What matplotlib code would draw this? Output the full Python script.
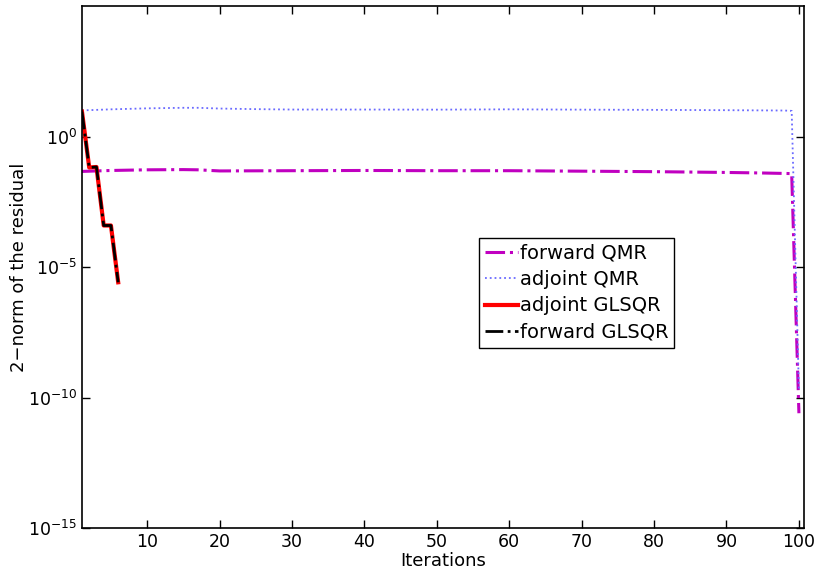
import numpy as np
import matplotlib
matplotlib.use("Agg")
import matplotlib.pyplot as plt
from matplotlib.ticker import FixedLocator, LogFormatterSciNotation, NullLocator

plt.rcParams['font.family'] = ['DejaVu Sans']

# residual histories (iteration -> 2-norm)
it_fqmr = [1, 5, 10, 15, 17, 20, 30, 40, 50, 60, 70, 80, 90, 95, 99, 100]
res_fqmr = [0.046, 0.050, 0.053, 0.054, 0.053, 0.048, 0.049, 0.050, 0.049,
            0.049, 0.047, 0.045, 0.042, 0.040, 0.038, 2.5e-11]

it_aqmr = [1, 5, 10, 15, 17, 20, 25, 30, 40, 50, 60, 70, 80, 90, 98, 99, 100]
res_aqmr = [10.0, 11.0, 12.0, 12.6, 12.6, 11.8, 11.2, 10.8, 10.8, 10.7,
            11.0, 10.7, 10.5, 10.2, 9.9, 9.6, 2e-10]

it_glsqr = [1, 2, 3, 4, 5, 6]
res_aglsqr = [9.0, 0.065, 0.068, 3.9e-4, 3.9e-4, 2.6e-6]
res_fglsqr = [9.0, 0.065, 0.068, 3.9e-4, 3.9e-4, 2.6e-6]

fig = plt.figure(figsize=(8.14, 5.73), dpi=100)
ax = fig.add_axes([0.1007, 0.0785, 0.887, 0.911])

ax.semilogy(it_fqmr, res_fqmr, '-.', color='#c000c0', lw=2.2, label='forward QMR')
ax.semilogy(it_aqmr, res_aqmr, ':', color='#6a6aff', lw=1.3, label='adjoint QMR')
ax.semilogy(it_glsqr, res_aglsqr, '-', color='#ff0000', lw=3, label='adjoint GLSQR')
ax.semilogy(it_glsqr, res_fglsqr, '-.', color='black', lw=2, label='forward GLSQR')

ax.set_xlim(1, 100.7)
ax.set_ylim(1e-15, 1e5)
ax.set_xticks(np.arange(10, 101, 10))
ax.yaxis.set_major_locator(FixedLocator([1e-15, 1e-10, 1e-5, 1e0]))
ax.yaxis.set_major_formatter(LogFormatterSciNotation())
ax.yaxis.set_minor_locator(NullLocator())
ax.tick_params(direction='in', top=True, right=True, labelsize=12.5, length=6, width=1)
for s in ax.spines.values():
    s.set_linewidth(1.2)

ax.set_xlabel('Iterations', fontsize=13, labelpad=1)
ax.set_ylabel('2\u2212norm of the residual', fontsize=13)
ax.yaxis.set_label_coords(-0.075, 0.5)

leg = ax.legend(loc='upper left', bbox_to_anchor=(0.55, 0.556), borderaxespad=0,
                fontsize=14, fancybox=False, edgecolor='black', framealpha=1,
                handlelength=1.7, handletextpad=0.1, labelspacing=0.38,
                borderpad=0.3)
leg.get_frame().set_linewidth(1.0)

fig.savefig('out.png', dpi=100)
